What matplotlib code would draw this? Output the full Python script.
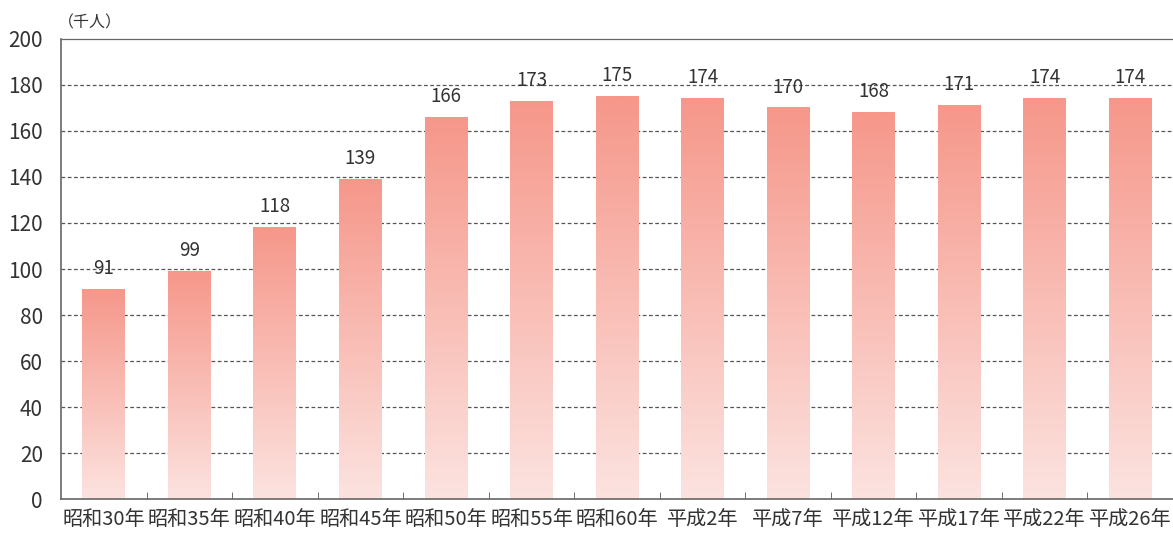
import numpy as np
import matplotlib.pyplot as plt
from matplotlib.colors import LinearSegmentedColormap

plt.rcParams['font.family'] = ['Noto Sans CJK JP', 'DejaVu Sans']

categories = ['昭和30年', '昭和35年', '昭和40年', '昭和45年', '昭和50年', '昭和55年', '昭和60年',
              '平成2年', '平成7年', '平成12年', '平成17年', '平成22年', '平成26年']
values = [91, 99, 118, 139, 166, 173, 175, 174, 170, 168, 171, 174, 174]

fig = plt.figure(figsize=(11.73, 5.34), dpi=100)
ax = fig.add_axes([0.052, 0.0655, 0.948, 0.8615])

cmap = LinearSegmentedColormap.from_list('pink', ['#FCE3E0', '#F6978A'])
grad = np.linspace(0, 1, 256).reshape(-1, 1)
width = 0.5
x = np.arange(len(categories))

for xi, v in zip(x, values):
    ax.imshow(grad, extent=[xi - width / 2, xi + width / 2, 0, v], origin='lower',
              cmap=cmap, aspect='auto', zorder=2)
    ax.text(xi, v + 4.5, str(v), ha='center', va='bottom', fontsize=13.5, color='#333333')
ax.set_xlim(-0.5, len(categories) - 0.5)
ax.set_ylim(0, 200)

ax.set_yticks(range(0, 201, 20))
ax.tick_params(axis='y', length=0, labelsize=15, labelcolor='#333333', pad=13)
ax.set_xticks(x)
ax.set_xticklabels(categories)
ax.tick_params(axis='x', which='major', length=0, labelsize=14.5, labelcolor='#333333', pad=7)
ax.set_xticks(np.arange(0.5, len(categories) - 0.5, 1), minor=True)
ax.tick_params(axis='x', which='minor', direction='in', length=5, color='#555555')

for y in range(20, 200, 20):
    ax.axhline(y, color='#555555', linestyle=(0, (3, 2)), linewidth=0.9, zorder=1)

for s in ['left', 'bottom', 'top']:
    ax.spines[s].set_color('#666666')
    ax.spines[s].set_linewidth(1.2)
ax.spines['top'].set_linewidth(0.9)
ax.spines['right'].set_visible(False)

fig.text(0.049, 0.957, '（千人）', fontsize=11.5, color='#333333', ha='left', va='center')

fig.savefig('out.png', dpi=100)
